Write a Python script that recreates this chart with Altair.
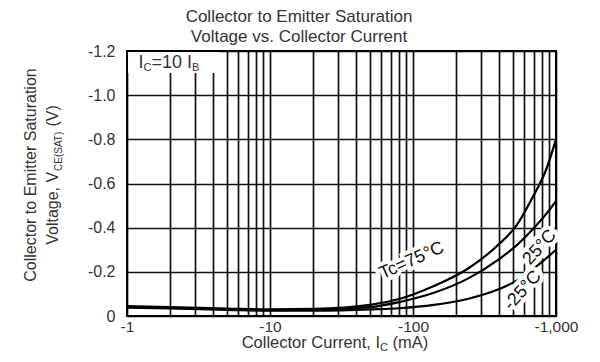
import altair as alt
import pandas as pd

# ---------------- data ----------------
current_mA = [1, 2, 5, 10, 20, 50, 80, 140, 240, 400, 530, 690, 850, 1000]
vce_75C = [0.045, 0.040, 0.034, 0.030, 0.032, 0.050, 0.077, 0.136, 0.213, 0.326, 0.41, 0.54, 0.66, 0.80]
vce_25C = [0.042, 0.037, 0.031, 0.027, 0.028, 0.040, 0.063, 0.105, 0.168, 0.258, 0.32, 0.394, 0.46, 0.52]
vce_m25C = [0.038, 0.034, 0.028, 0.024, 0.024, 0.030, 0.035, 0.050, 0.077, 0.122, 0.16, 0.213, 0.26, 0.30]
series_names = ["75°C", "25°C", "-25°C"]

x_grid = [m * 10 ** k for k in range(3) for m in range(1, 10)] + [1000]
y_grid = [round(0.1 * i, 1) for i in range(13)]

title_lines = ["Collector to Emitter Saturation", "Voltage vs. Collector Current"]

# annotation anchor points (data coordinates)
label_75 = {"I": 98, "V": 0.25, "text": "Tc=75°C", "angle": 336}
label_25 = {"I": 770, "V": 0.31, "text": "25°C", "angle": 312}
label_m25 = {"I": 585, "V": 0.115, "text": "-25°C", "angle": 312}
box_I = [1, 4.4]
box_V = [1.1, 1.2]

FONT = "Liberation Sans"
TXT = "#333333"
W, H = 429, 265

rows = []
for name, vals in zip(series_names, [vce_75C, vce_25C, vce_m25C]):
    for i, v in zip(current_mA, vals):
        rows.append({"I": i, "V": v, "series": name})
df = pd.DataFrame(rows)

xscale = alt.Scale(type="log", domain=[1, 1000])
yscale = alt.Scale(domain=[0, 1.2])

x_label_expr = ("(datum.value==1||datum.value==10||datum.value==100||datum.value==1000)"
                " ? '-' + format(datum.value, ',') : ''")
y_label_expr = ("(round(datum.value*10) % 2 == 0) ? (datum.value == 0 ? '0' : "
                "'-' + format(datum.value, '.1f')) : ''")

lines = alt.Chart(df).mark_line(color="black", strokeWidth=2.2, interpolate="monotone").encode(
    x=alt.X("I:Q", scale=xscale,
            axis=alt.Axis(values=x_grid, labelExpr=x_label_expr, title="", ticks=False,
                          domain=False, grid=True, gridColor="#111111", gridWidth=1.7,
                          gridOpacity=1, labelFont=FONT, labelFontSize=15.5, labelColor=TXT,
                          labelPadding=3, labelOverlap=False, labelFlush=False)),
    y=alt.Y("V:Q", scale=yscale,
            axis=alt.Axis(values=y_grid, labelExpr=y_label_expr, title="", ticks=False,
                          domain=False, grid=True, gridColor="#111111", gridWidth=1.7,
                          gridOpacity=1, labelFont=FONT, labelFontSize=16, labelColor=TXT,
                          labelPadding=12, labelOverlap=False)),
    detail="series:N",
)

box = alt.Chart(pd.DataFrame({"x1": [box_I[0]], "x2": [box_I[1]], "y1": [box_V[0]], "y2": [box_V[1]]})).mark_rect(
    fill="white", strokeWidth=0).encode(
    x=alt.X("x1:Q", scale=xscale), x2="x2:Q", y=alt.Y("y1:Q", scale=yscale), y2="y2:Q")

frame = alt.Chart(pd.DataFrame({"x1": [1], "x2": [1000], "y1": [0], "y2": [1.2]})).mark_rect(
    fillOpacity=0, stroke="black", strokeWidth=2).encode(
    x=alt.X("x1:Q", scale=xscale), x2="x2:Q", y=alt.Y("y1:Q", scale=yscale), y2="y2:Q")


def curve_label(lab):
    d = pd.DataFrame([lab])
    base = alt.Chart(d).encode(x=alt.X("I:Q", scale=xscale), y=alt.Y("V:Q", scale=yscale), text="text:N")
    halo = base.mark_text(font=FONT, fontSize=18, angle=lab["angle"], align="center", baseline="middle",
                          stroke="white", strokeWidth=8, color="white")
    fg = base.mark_text(font=FONT, fontSize=18, angle=lab["angle"], align="center", baseline="middle",
                        color="#111111")
    return halo + fg


# Arial / Liberation Sans advance widths (per 1000 em)
AW = {" ": 278, "(": 333, ")": 333, ",": 278, "-": 333, ".": 278, "=": 584, "°": 400,
      "A": 667, "B": 667, "C": 722, "E": 667, "I": 278, "S": 667, "T": 611, "V": 667,
      "a": 556, "c": 500, "e": 556, "g": 556, "i": 222, "l": 222, "m": 833, "n": 556,
      "o": 556, "r": 333, "s": 500, "t": 278, "u": 556, "v": 500, "y": 500}


def tw(s, size):
    return sum(AW.get(ch, 556) for ch in s) * size / 1000.0


dummy = pd.DataFrame({"a": [0]})


def txt(s, x, y, size, angle=0, align="left", baseline="alphabetic"):
    return alt.Chart(dummy).mark_text(text=s, font=FONT, fontSize=size, angle=angle, align=align,
                                      baseline=baseline, color=TXT).encode(
        x=alt.value(x), y=alt.value(y))


def split_lead(t):
    stripped = t.lstrip(" ")
    return stripped, len(t) - len(stripped)


def rich_h(pieces, x_center, y_base):
    """horizontal text with subscripts; pieces = [(text, size, dy)]"""
    total = sum(tw(t, s) for t, s, _ in pieces)
    x = x_center - total / 2
    out = []
    for t, s, dy in pieces:
        body, nlead = split_lead(t)
        lead = nlead * AW[" "] * s / 1000.0
        out.append(txt(body, x + lead, y_base + dy, s))
        x += tw(t, s)
    return out


def rich_v(pieces, x_base, y_center):
    """text rotated 270 (reading upwards) with subscripts"""
    total = sum(tw(t, s) for t, s, _ in pieces)
    y = y_center + total / 2
    out = []
    for t, s, dx in pieces:
        body, nlead = split_lead(t)
        lead = nlead * AW[" "] * s / 1000.0
        out.append(txt(body, x_base + dx, y - lead, s, angle=270))
        y -= tw(t, s)
    return out


texts = []
# chart title (two lines)
texts.append(txt(title_lines[0], 172, -29, 17, align="center"))
texts.append(txt(title_lines[1], 172, -9, 17, align="center"))
# Ic = 10 Ib box label
texts += rich_h([("I", 18, 0), ("C", 11, 3), ("=10 I", 18, 0), ("B", 11, 3)], 42, 17)
# x axis title
texts += rich_h([("Collector Current, I", 16.5, 0), ("C", 11, 3), (" (mA)", 16.5, 0)], 208, 297)
# y axis title
texts.append(txt("Collector to Emitter Saturation", -91, 124, 16, angle=270, align="center"))
texts += rich_v([("Voltage, V", 16, 0), ("CE(SAT)", 10, 4), (" (V)", 16, 0)], -69, 124)

layers = [lines, box, frame, curve_label(label_75), curve_label(label_25), curve_label(label_m25)] + texts

chart = alt.layer(*layers).properties(
    width=W, height=H,
    autosize=alt.AutoSizeParams(type="none"),
    padding={"left": 119, "top": 43, "right": 36, "bottom": 38},
).configure_view(strokeWidth=0)

chart.save("out.html", embed_options={"renderer": "svg", "actions": False})
